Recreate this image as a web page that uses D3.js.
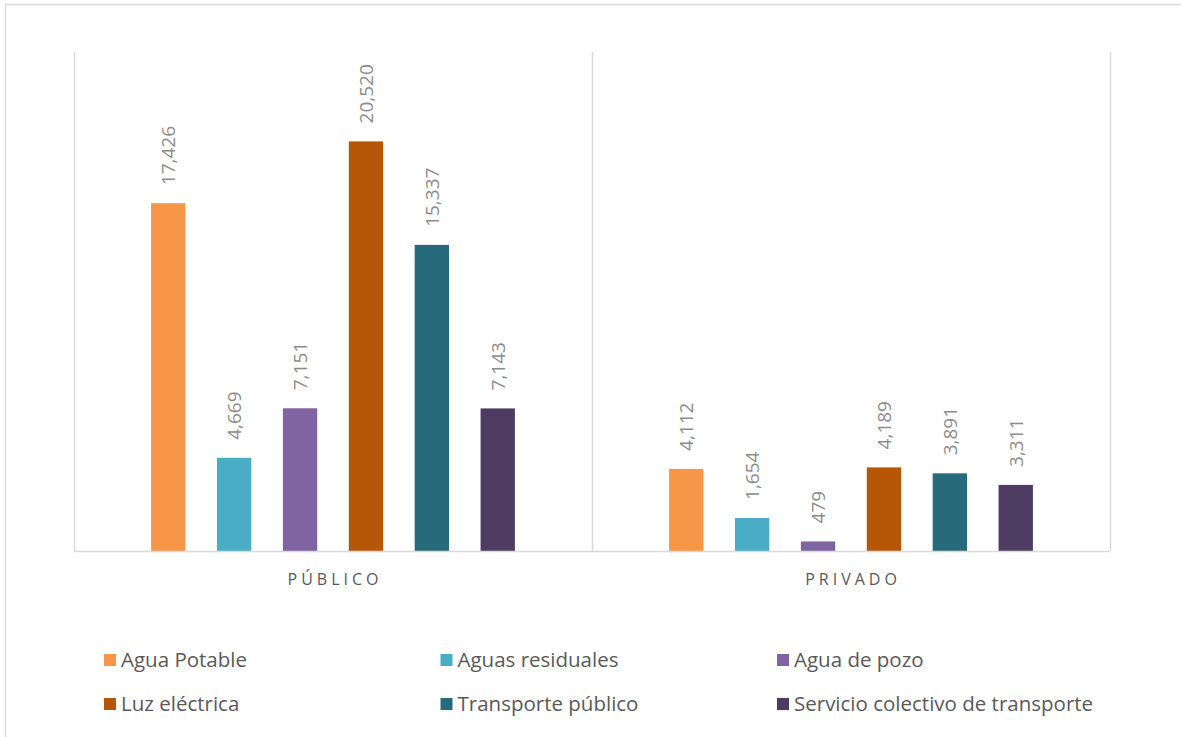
<!DOCTYPE html>
<html>
<head>
<meta charset="utf-8">
<script src="https://cdn.jsdelivr.net/npm/d3@7"></script>
<style>
  body { margin: 0; background: #fff; }
  svg { display: block; font-family: "Open Sans", sans-serif; }
</style>
</head>
<body>
<svg width="1181" height="737"></svg>
<script>
// data
let categories = ["PÚBLICO", "PRIVADO"];
let seriesNames = ["Agua Potable", "Aguas residuales", "Agua de pozo",
                   "Luz eléctrica", "Transporte público", "Servicio colectivo de transporte"];
let publico = [17426, 4669, 7151, 20520, 15337, 7143];
let privado = [4112, 1654, 479, 4189, 3891, 3311];
let colors = ["#F79646", "#4BACC6", "#8064A2", "#B65708", "#276A7C", "#4D3B62"];

var svg = d3.select("svg");

var margin = {top: 52, right: 71, bottom: 186, left: 74}
  , width = 1181 - margin.left - margin.right
  , height = 737 - margin.top - margin.bottom;

// outer chart border
svg.append("rect")
    .attr("x", 5.5).attr("y", 4.5)
    .attr("width", 1190).attr("height", 750)
    .attr("fill", "none")
    .attr("stroke", "#d9d9d9")
    .attr("stroke-width", 1.5);

var g = svg.append("g")
    .attr("transform", "translate(" + margin.left + "," + margin.top + ")");

var x0 = d3.scaleBand()
    .domain(categories)
    .range([0, width]);

var x1 = d3.scaleBand()
    .domain(d3.range(seriesNames.length))
    .range([0, x0.bandwidth()])
    .paddingInner(0.479)
    .paddingOuter(1.17);

var y = d3.scaleLinear()
    .domain([0, 25000])
    .range([height, 0]);

var color = d3.scaleOrdinal().domain(d3.range(seriesNames.length)).range(colors);

// vertical grid lines between categories
var edges = categories.map(c => x0(c)).concat([width]);
g.selectAll(".vgrid")
    .data(edges)
  .enter().append("line")
    .attr("class", "vgrid")
    .attr("x1", d => Math.round(d) + 0.5)
    .attr("x2", d => Math.round(d) + 0.5)
    .attr("y1", 0)
    .attr("y2", height)
    .attr("stroke", "#d9d9d9")
    .attr("stroke-width", 1.5);

var rows = categories.map((c, i) => ({cat: c, values: i == 0 ? publico : privado}));

var groups = g.selectAll(".cat")
    .data(rows)
  .enter().append("g")
    .attr("class", "cat")
    .attr("transform", d => "translate(" + x0(d.cat) + ",0)");

groups.selectAll("rect")
    .data(d => d.values.map((v, i) => ({i: i, v: v})))
  .enter().append("rect")
    .attr("x", d => x1(d.i))
    .attr("width", x1.bandwidth())
    .attr("y", d => y(d.v))
    .attr("height", d => height - y(d.v))
    .attr("fill", d => color(d.i));

var fmt = d3.format(",");
groups.selectAll(".lbl")
    .data(d => d.values.map((v, i) => ({i: i, v: v})))
  .enter().append("text")
    .attr("class", "lbl")
    .attr("transform", d => "translate(" + (x1(d.i) + x1.bandwidth() / 2 + 7) + "," + (y(d.v) - 18) + ") rotate(-90)")
    .attr("fill", "#8c8c8c")
    .style("font-size", "19px")
    .text(d => fmt(d.v));

// baseline
g.append("line")
    .attr("x1", 0).attr("x2", width)
    .attr("y1", height + 0.5).attr("y2", height + 0.5)
    .attr("stroke", "#d9d9d9")
    .attr("stroke-width", 1.5);

// category labels
g.selectAll(".catlbl")
    .data(categories)
  .enter().append("text")
    .attr("class", "catlbl")
    .attr("x", d => x0(d) + x0.bandwidth() / 2 + 2)
    .attr("y", height + 34)
    .attr("text-anchor", "middle")
    .attr("fill", "#595959")
    .style("font-size", "16px")
    .style("letter-spacing", "4px")
    .text(d => d);

// legend
var legend = svg.selectAll(".legend")
    .data(seriesNames)
  .enter().append("g")
    .attr("class", "legend")
    .attr("transform", (d, i) => "translate(" + (104 + (i % 3) * 336.5) + "," + (660 + Math.floor(i / 3) * 44) + ")");

legend.append("rect")
    .attr("x", 0).attr("y", -6)
    .attr("width", 12).attr("height", 12)
    .attr("fill", (d, i) => color(i));

legend.append("text")
    .attr("x", 17)
    .attr("y", 0)
    .attr("dy", "0.35em")
    .attr("fill", "#595959")
    .style("font-size", "20.5px")
    .text(d => d);
</script>
</body>
</html>
